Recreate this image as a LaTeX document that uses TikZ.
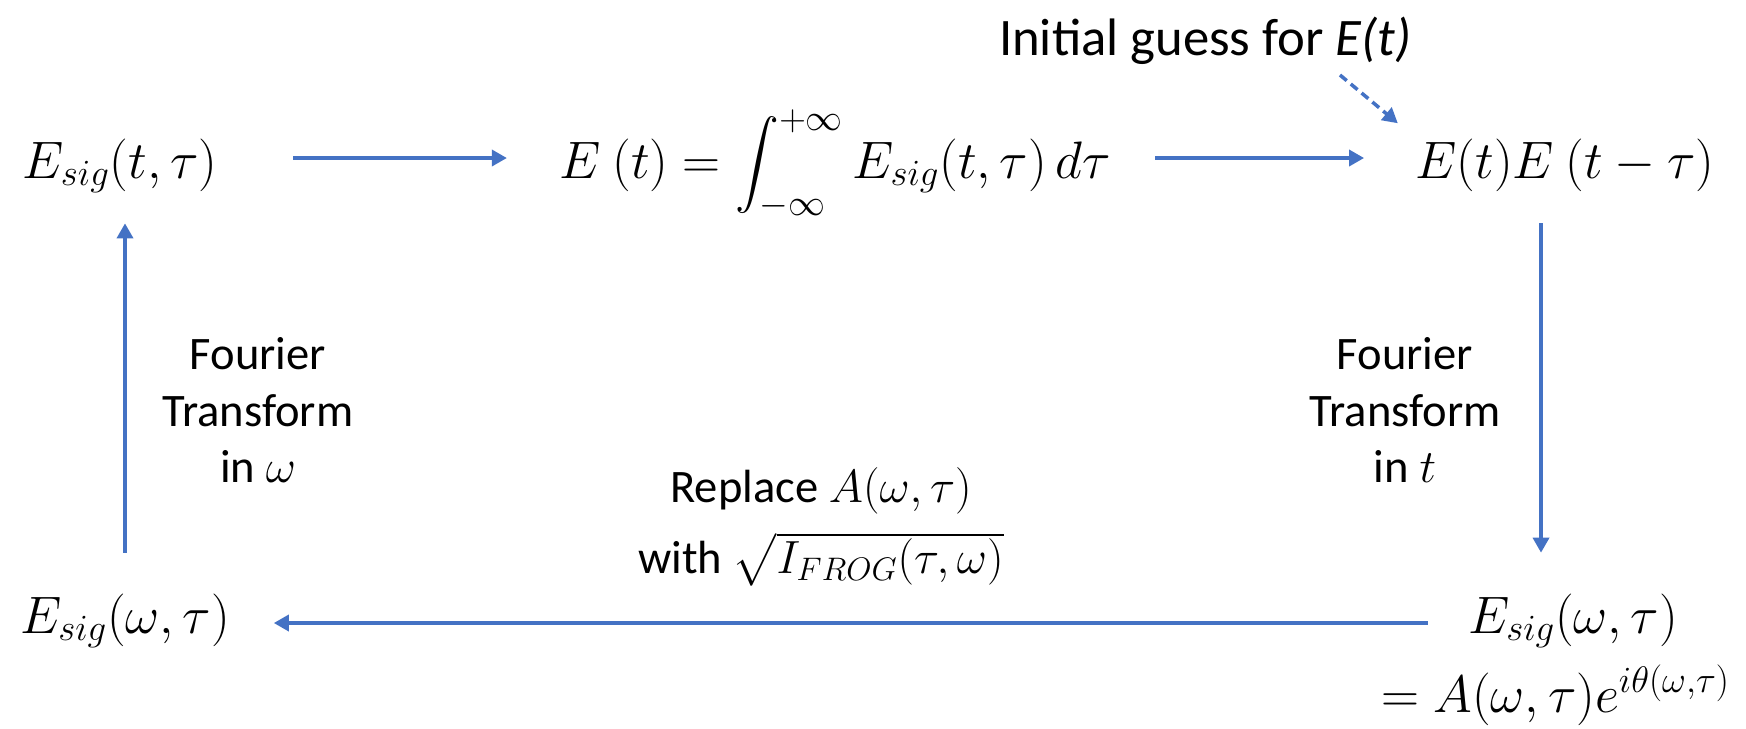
\documentclass[tikz,border=0pt]{standalone}
\usepackage{fix-cm}
\usepackage{amsmath}
\usepackage{fontspec}
\setmainfont{Carlito}
\usepackage{xcolor}
\usetikzlibrary{arrows.meta}

\definecolor{arrowblue}{HTML}{4472C4}
\newcommand{\eqsize}{\fontsize{30}{36}\selectfont}
\newcommand{\notesize}{\fontsize{26.5}{32}\selectfont}

\begin{document}
\begin{tikzpicture}[x=0.02cm,y=-0.02cm,
  flow/.style={draw=arrowblue,line width=2pt,-{Triangle[length=0.3cm,width=0.32cm]}},
  toprow/.style={anchor=base,inner sep=0pt,text height=0.8cm,text depth=0pt,font=\eqsize},
  botrow/.style={anchor=base,inner sep=0pt,text height=0.4cm,text depth=0pt,font=\eqsize},
  note/.style={align=center,font=\notesize}]
  \useasboundingbox (0,0) rectangle (1746,728);
  % top row
  \node[toprow,minimum width=4.12cm](esigt) at (120,178){$E_{sig}(t,\tau)$};
  \node[toprow,minimum width=11cm](integ) at (835,178)
       {$E\ (t)=\displaystyle\int_{-\infty}^{+\infty}E_{sig}(t,\tau)\,d\tau$};
  \node[toprow,minimum width=5.88cm](eprod) at (1565,178){$E(t)E\ (t-\tau)$};
  \node[anchor=base,font=\fontsize{30}{36}\selectfont](guess) at (1205,55)
       {Initial guess for \textit{E(t)}};
  % bottom row
  \node[botrow,minimum width=4.3cm](esigw) at (125,633){$E_{sig}(\omega,\tau)$};
  \node[botrow,minimum width=4.32cm](esigwr) at (1573,633){$E_{sig}(\omega,\tau)$};
  \node[anchor=base east,font=\eqsize](amp) at (1736,712)
       {$=A(\omega,\tau)e^{i\theta(\omega,\tau)}$};
  % side notes
  \node[note](ftw) at (258,410){Fourier\\Transform\\in $\omega$};
  \node[note](ftt) at (1405,410){Fourier\\Transform\\in $t$};
  \node[note](repl) at (821,527)
       {Replace $A(\omega,\tau)$\\[0.3cm]with $\sqrt{I_{FROG}(\tau,\omega)}$};
  % loop
  \draw[flow,shorten <=1.4cm,shorten >=1.04cm](esigt.east)--(integ.west);
  \draw[flow,shorten <=0.88cm,shorten >=1.02cm](integ.east)--(eprod.west);
  \draw[flow,shorten <=0.9cm,shorten >=1.2cm]([xshift=-0.48cm]eprod.south)
       --([xshift=-0.48cm]eprod.south |- esigwr.north);
  \draw[flow,shorten <=0.74cm,shorten >=0.82cm](esigwr.west)--(esigw.east);
  \draw[flow,shorten <=1.2cm,shorten >=0.9cm](esigw.north)--(esigw.north |- esigt.south);
  % starting point
  \draw[flow,dash pattern=on 5pt off 3pt,shorten >=0.45cm]
       ([xshift=2.7cm,yshift=-0.4cm]guess.base)--(eprod.north west);
\end{tikzpicture}
\end{document}
